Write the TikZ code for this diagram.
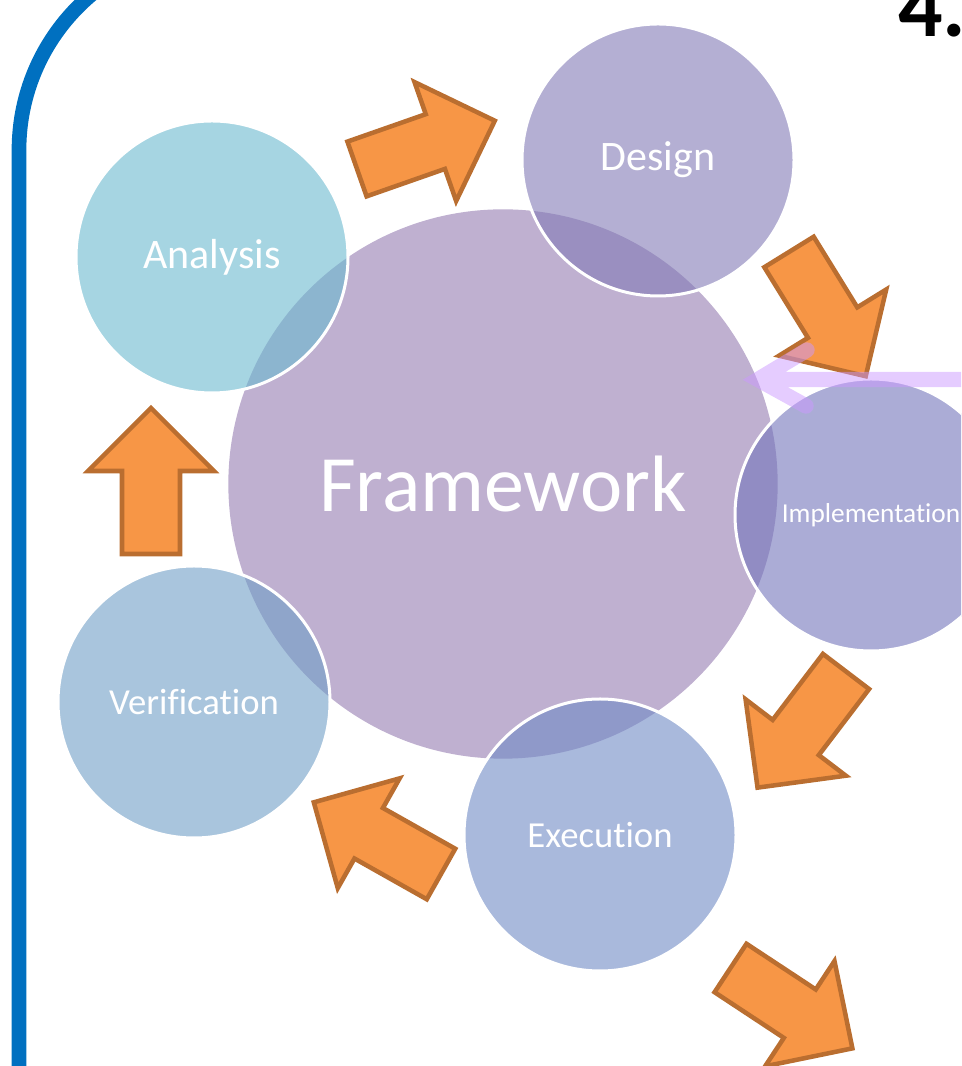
\documentclass[tikz,border=0pt]{standalone}
\usepackage{fontspec}
\setmainfont[Ligatures=NoCommon]{Carlito}
\usetikzlibrary{arrows.meta}

\definecolor{frameblue}{RGB}{0,112,192}
\definecolor{frameworkfill}{RGB}{148,123,177}
\definecolor{analysisfill}{RGB}{107,185,207}
\definecolor{designfill}{RGB}{130,122,182}
\definecolor{implementationfill}{RGB}{115,117,187}
\definecolor{executionfill}{RGB}{112,138,197}
\definecolor{verificationfill}{RGB}{112,158,198}
\definecolor{arrowfill}{RGB}{247,150,70}
\definecolor{arrowdraw}{RGB}{186,110,48}
\definecolor{pointerviolet}{RGB}{204,153,255}

\tikzset{
    bubble/.style={circle, draw=white, line width=2.25pt, fill opacity=0.6,
        text opacity=1, text=white, inner sep=0pt, minimum size=204pt,
        font=\fontsize{31.5}{31.5}\selectfont},
    smalltext/.style={font=\fontsize{27.5}{27.5}\selectfont},
    arrowline/.style={fill=arrowfill, draw=arrowdraw, line width=3.4pt,
        line join=miter},
    blockarrow/.pic={
        \draw[arrowline] (0,-29) -- (83,-29) -- (83,-63) -- (146,0)
            -- (83,63) -- (83,29) -- (0,29) -- cycle;
    }
}

\begin{document}
\begin{tikzpicture}[x=0.75pt, y=0.75pt]
    \useasboundingbox (0,0) rectangle (961,1066);
    \clip (0,0) rectangle (961,1066);

    \draw[frameblue, line width=11pt] (19,-20) -- (19,916)
        arc[start angle=180, end angle=90, radius=203];

    \node[bubble, draw=none, fill=frameworkfill, minimum size=412pt,
          font=\fontsize{60}{60}\selectfont] (framework) at (503,582) {Framework};
    \node[bubble, fill=analysisfill]       (analysis)       at (212,809) {Analysis};
    \node[bubble, fill=designfill]         (design)         at (658,906) {Design};
    \node[bubble, fill=implementationfill,
          font=\fontsize{20.5}{20.5}\selectfont] (implementation) at (871,551) {Implementation};
    \node[bubble, smalltext, fill=executionfill]    (execution)    at (600,231) {Execution};
    \node[bubble, smalltext, fill=verificationfill] (verification) at (194,364) {Verification};

    \foreach \X/\Y/\Angle in {357/897/19.3, 789/814/-58.3, 846/394.5/232.7,
                              441/192/150.6, 151/512/90, 730.5/98/-33.4}
        \pic[rotate=\Angle] at (\X,\Y) {blockarrow};

    \draw[pointerviolet, draw opacity=0.5, line width=11.5pt, line cap=round,
          line join=miter] (807,716) -- (758,686.5) -- (806,660)
          (758,686.5) -- (990,686.5);

    \node[font=\fontsize{66}{66}\selectfont\bfseries, anchor=base west,
          inner sep=0pt] (number) at (898,1029) {4.};
\end{tikzpicture}
\end{document}
